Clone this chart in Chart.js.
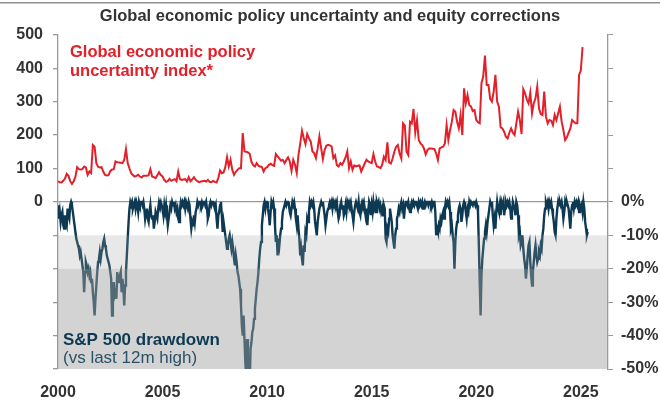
<!DOCTYPE html>
<html>
<head>
<meta charset="utf-8">
<script src="https://cdn.jsdelivr.net/npm/chart.js@4.4.1/dist/chart.umd.min.js"></script>
<style>
  html, body { margin: 0; padding: 0; background: #fff; }
</style>
</head>
<body>
<canvas id="chart" width="660" height="403"></canvas>
<script>
// Global EPU index, monthly, Jan 2000 onwards
const epuMonthly = [
  61, 59, 58, 63, 70, 84, 78, 62, 54, 62, 75, 104,          // 2000
  98, 97, 98, 106, 103, 81, 91, 86, 170, 165, 116, 105,     // 2001
  103, 104, 90, 81, 79, 80, 92, 97, 98, 121, 119, 118,      // 2002
  117, 116, 126, 158, 116, 100, 86, 80, 76, 78, 81, 76,     // 2003
  73, 78, 78, 78, 80, 98, 76, 74, 71, 80, 89, 80,           // 2004
  76, 66, 60, 62, 69, 63, 66, 68, 62, 91, 68, 66,           // 2005
  67, 68, 61, 74, 62, 67, 74, 66, 62, 59, 61, 62,           // 2006
  63, 61, 66, 60, 59, 63, 60, 58, 72, 94, 86, 88,           // 2007
  104, 134, 106, 126, 96, 81, 90, 96, 101, 101, 206, 151,   // 2008
  150, 148, 144, 120, 110, 106, 116, 108, 106, 104, 91, 101, // 2009
  104, 111, 114, 110, 108, 143, 136, 130, 123, 126, 116, 125, // 2010
  133, 121, 93, 126, 111, 86, 141, 175, 213, 191, 173, 203, // 2011
  190, 181, 151, 146, 131, 160, 196, 161, 128, 156, 168, 171, // 2012
  169, 166, 131, 139, 110, 106, 116, 111, 121, 133, 151, 101, // 2013
  121, 96, 109, 106, 108, 109, 91, 103, 115, 126, 121, 118, // 2014
  116, 143, 121, 106, 104, 101, 111, 135, 125, 178, 118, 115, // 2015
  130, 150, 165, 170, 145, 130, 235, 228, 150, 140, 240, 235, // 2016
  278, 208, 245, 185, 175, 170, 160, 142, 155, 160, 160, 159, // 2017
  158, 145, 125, 160, 163, 165, 175, 230, 185, 215, 240, 275, // 2018
  270, 240, 220, 260, 200, 340, 295, 320, 290, 285, 272, 275, // 2019
  245, 238, 235, 355, 375, 438, 350, 350, 308, 300, 330, 380, // 2020
  300, 285, 223, 220, 210, 195, 190, 207, 220, 207, 200, 235, // 2021
  270, 245, 203, 337, 325, 307, 295, 327, 265, 295, 310, 345, // 2022
  280, 263, 260, 330, 255, 235, 245, 243, 230, 260, 245, 265, // 2023
  285, 240, 215, 185, 193, 207, 220, 245, 240, 235, 235, 380, // 2024
  393, 463                                                  // 2025
];

// S&P 500 drawdown vs last 12m high, %, twice a month from Jan 2000
const drawdown = [
  -1, -5, -3, -6, -4, -3, -7, -8, -4, -6, -7, -2, -4, -5, -1, 0, -1, -3, -5, -7, -9, -11, -12, -13,                 // 2000
  -14, -16, -15, -17, -19, -21, -27, -21, -18, -19, -21, -20, -22, -21, -24, -23, -27, -30, -34, -29, -25, -21, -18, -17, // 2001
  -15, -17, -15, -14, -12, -11, -13, -14, -16, -17, -18, -19, -21, -23, -34, -26, -24, -28, -27, -29, -21, -24, -23, -22, // 2002
  -21, -27, -23, -26, -31, -25, -21, -16, -11, -6, -2, 0, -1, 0, -2, -1, 0, -2, 0, -1, -3, 0, -1, 0,              // 2003
  0, -1, 0, -2, -5, -3, -2, -5, -6, -3, -1, -4, -5, -4, -8, -6, -3, -4, -5, -2, 0, -1, 0, -1,                     // 2004
  -2, -4, -1, -3, -1, -4, -7, -5, -3, -1, -2, 0, -1, 0, -2, -1, -3, -2, -5, -6, -2, 0, -1, 0,                     // 2005
  -1, 0, -2, 0, -1, -2, 0, -1, -5, -8, -6, -7, -4, -6, -3, -2, 0, -1, 0, 0, -1, 0, -1, 0,                         // 2006
  0, -1, 0, -2, -5, -4, -1, 0, -1, 0, 0, -1, -2, -1, -5, -8, -4, -3, -1, 0, -4, -9, -6, -8,                       // 2007
  -10, -12, -14, -13, -11, -10, -12, -14, -12, -14, -17, -19, -16, -18, -21, -22, -24, -26, -31, -37, -40, -34, -41, -48, // 2008
  -53, -41, -52, -47, -55, -44, -42, -39, -38, -35, -32, -29, -26, -24, -21, -17, -14, -12, -7, -4, -1, 0, -2, 0, // 2009
  0, -2, -4, -7, -3, 0, -1, 0, -2, -7, -12, -10, -16, -11, -13, -10, -8, -6, -3, -2, -1, 0, -1, 0,                // 2010
  0, -1, -3, -4, -2, 0, -1, 0, -2, -5, -7, -4, -8, -11, -16, -14, -17, -19, -13, -15, -9, -10, -5, -6,            // 2011
  -3, 0, -1, 0, -1, 0, -2, -6, -8, -10, -6, -4, -2, -1, 0, -1, 0, -2, -4, -7, -5, -3, -2, -1,                     // 2012
  0, -1, 0, -2, 0, -1, 0, -1, 0, -3, -5, -4, -1, 0, -2, -1, -4, -3, -1, -3, 0, -1, 0, -1,                         // 2013
  0, -2, -4, -6, -3, -1, 0, -1, -2, 0, -3, -4, -1, 0, -1, 0, -2, -4, -2, -7, -3, 0, -1, -4,                       // 2014
  -1, -3, 0, -2, -1, -3, 0, -1, 0, -2, -1, -3, -2, -4, -1, -2, -11, -12, -8, -9, -5, -2, -4, -6,                  // 2015
  -10, -12, -14, -10, -8, -5, -4, -2, -3, -1, 0, -2, -1, -5, -2, 0, 0, -1, 0, -2, -3, -1, 0, -1,                  // 2016
  0, -1, 0, 0, -1, -2, 0, -1, 0, -1, 0, -2, -1, 0, -1, 0, 0, -1, 0, 0, -1, 0, -1, 0,                              // 2017
  0, -3, -10, -8, -9, -7, -8, -5, -6, -4, -3, -5, -2, 0, -1, 0, -1, 0, -3, -8, -7, -10, -12, -20,                 // 2018
  -12, -8, -6, -4, -2, -1, -2, -6, -4, -1, 0, -1, -3, -5, -2, -3, 0, -1, 0, 0, -1, 0, 0, -1,                      // 2019
  0, -1, -3, -13, -24, -34, -22, -17, -14, -11, -9, -7, -9, -6, -4, -2, 0, -1, 0, -4, -7, -5, -8, -3,             // 2020
  0, -2, -3, -1, -4, 0, -1, 0, -4, -2, 0, -1, 0, -1, 0, -2, -5, -3, 0, -1, -2, -4, 0, -1,                         // 2021
  -4, -10, -9, -13, -12, -10, -14, -17, -19, -23, -20, -16, -13, -12, -18, -22, -25, -21, -18, -15, -13, -16, -18, -17, // 2022
  -15, -16, -13, -14, -10, -8, -4, -2, 0, -1, 0, -2, 0, -1, 0, -2, -4, -6, -9, -10, -5, -2, 0, -1,                // 2023
  0, -1, 0, -2, -5, -3, 0, -1, 0, -1, -2, -5, -8, -3, -1, 0, -2, 0, -1, 0, -1, 0, -3, -1,                         // 2024
  -2, -1, -3, 0, -2, -6, -8, -10, -9                                                                              // 2025
];

const startYear = 2000;
const yearTicks = [2000, 2005, 2010, 2015, 2020, 2025];
const epuTicks = [0, 100, 200, 300, 400, 500];
const drawdownTicks = [0, -10, -20, -30, -40, -50];
const correctionBands = [[-10, -20], [-20, -50]];

const RED = '#e3202a';
const NAVY = '#0d3a52';
const TEXT = '#333333';
Chart.defaults.font.family = '"Liberation Sans", Arial, sans-serif';
Chart.defaults.color = TEXT;

// shaded correction zones are laid over the drawdown line, like the original
const overlays = {
  id: 'overlays',
  beforeDraw(chart) {
    const ctx = chart.ctx;
    ctx.save();
    ctx.fillStyle = '#8f8f8f';
    ctx.fillRect(0, 2, chart.width, 1.5);
    ctx.restore();
  },
  afterDatasetsDraw(chart) {
    const { ctx, chartArea: a, scales } = chart;
    const alphas = [0.24, 0.465];
    ctx.save();
    correctionBands.forEach((b, i) => {
      const top = scales.y2.getPixelForValue(b[0]);
      const bot = scales.y2.getPixelForValue(b[1]);
      ctx.fillStyle = `rgba(160,160,160,${alphas[i]})`;
      ctx.fillRect(a.left, top, a.right - a.left, bot - top);
    });

    ctx.textBaseline = 'middle';
    ctx.textAlign = 'left';
    ctx.fillStyle = RED;
    ctx.font = 'bold 16.5px "Liberation Sans", Arial, sans-serif';
    ctx.fillText('Global economic policy', 70, 52);
    ctx.fillText('uncertainty index*', 70, 71);

    ctx.fillStyle = NAVY;
    ctx.font = 'bold 17px "Liberation Sans", Arial, sans-serif';
    ctx.fillText('S&P 500 drawdown', 63, 340);
    ctx.fillStyle = '#2b5167';
    ctx.font = '17px "Liberation Sans", Arial, sans-serif';
    ctx.fillText('(vs last 12m high)', 63, 358);
    ctx.restore();
  }
};

const epuPoints = epuMonthly.map((v, i) => ({ x: startYear + i / 12, y: v }));
const ddPoints = drawdown.map((v, i) => ({ x: startYear + i / 24, y: v }));

const tickFont = { size: 16, weight: 'bold' };

new Chart(document.getElementById('chart'), {
  type: 'line',
  data: {
    datasets: [
      {
        label: 'Global economic policy uncertainty index*',
        data: epuPoints,
        yAxisID: 'y',
        borderColor: RED,
        borderWidth: 2,
        pointRadius: 0,
        tension: 0
      },
      {
        label: 'S&P 500 drawdown',
        data: ddPoints,
        yAxisID: 'y2',
        borderColor: NAVY,
        borderWidth: 2.4,
        pointRadius: 0,
        tension: 0
      }
    ]
  },
  options: {
    responsive: false,
    animation: false,
    layout: { padding: { top: 0, bottom: 0, left: 0, right: 0 } },
    plugins: {
      legend: { display: false },
      tooltip: { enabled: false },
      title: {
        display: true,
        text: 'Global economic policy uncertainty and equity corrections',
        color: TEXT,
        font: { size: 16.5, weight: 'bold' },
        padding: { top: 7, bottom: 8 }
      }
    },
    scales: {
      x: {
        type: 'linear',
        min: 2000,
        max: 2026.3,
        border: { display: false },
        grid: { display: false, drawTicks: false },
        ticks: {
          stepSize: 5,
          includeBounds: false,
          padding: 14,
          font: tickFont,
          color: TEXT,
          maxRotation: 0,
          callback: v => yearTicks.includes(v) ? String(v) : ''
        },
        afterFit: s => { s.height = 34; }
      },
      y: {
        position: 'left',
        min: -500,
        max: 500,
        border: { display: true, color: '#999999', width: 1.3 },
        grid: {
          drawOnChartArea: true,
          color: c => c.tick && c.tick.value === 0 ? '#9a9a9a' : 'rgba(0,0,0,0)',
          lineWidth: 1.3,
          tickColor: '#999999',
          tickLength: 5
        },
        ticks: {
          stepSize: 100,
          padding: 10,
          font: tickFont,
          color: TEXT,
          callback: v => epuTicks.includes(v) ? String(v) : ''
        },
        afterFit: s => { s.width = 58; }
      },
      y2: {
        position: 'right',
        min: -50,
        max: 50,
        border: { display: true, color: '#999999', width: 1.3 },
        grid: { drawOnChartArea: false, tickColor: '#999999', tickLength: 5 },
        ticks: {
          stepSize: 10,
          padding: 8,
          font: tickFont,
          color: TEXT,
          callback: v => drawdownTicks.includes(v) ? v + '%' : ''
        },
        afterFit: s => { s.width = 52; }
      }
    }
  },
  plugins: [overlays]
});
</script>
</body>
</html>
